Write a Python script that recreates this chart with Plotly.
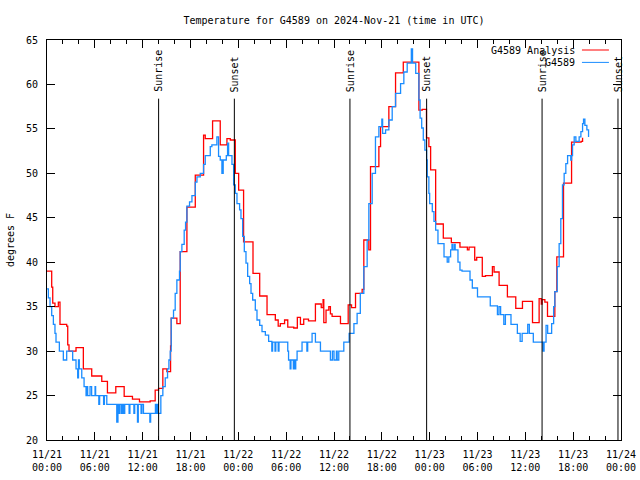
import pandas as pd
import plotly.graph_objects as go

# ---- data (hours after 2024-11-21 00:00 UTC, degrees F) ----
analysis_hours = [0.0, 0.59, 0.72, 1.0, 1.42, 1.63, 2.47, 2.6, 2.76, 3.64, 4.56, 5.61, 6.87, 7.58,
                  8.63, 9.68, 10.72, 11.6, 12.94, 13.57, 13.99, 14.53, 15.04, 15.5, 15.58, 16.29,
                  16.71, 17.55, 18.6, 19.64, 19.85, 20.77, 21.73, 22.57, 22.99, 23.62, 24.04, 24.66,
                  25.84, 26.68, 27.6, 28.64, 29.0, 29.27, 29.8, 30.2, 30.95, 31.4, 31.79, 32.2, 32.8,
                  33.67, 34.4, 34.63, 34.72, 35.0, 35.35, 35.55, 35.76, 36.81, 37.78, 38.2, 38.7,
                  39.53, 39.74, 40.37, 40.58, 41.63, 41.84, 42.88, 43.72, 44.69, 46.65, 47.07, 47.6,
                  47.9, 48.12, 48.75, 49.71, 50.72, 51.8, 52.73, 52.94, 53.65, 53.9, 54.6, 55.0,
                  55.87, 56.08, 56.71, 57.75, 58.8, 59.64, 60.9, 61.73, 62.0, 62.1, 62.45, 62.78,
                  63.7, 63.95, 64.79, 65.8, 67.0, 67.18]
analysis_temp = [39.0, 37.2, 35.4, 35.0, 35.5, 33.0, 32.8, 30.7, 30.0, 30.4, 28.0, 27.2, 26.6, 25.3,
                 26.0, 24.9, 24.6, 24.3, 24.4, 25.6, 25.8, 28.0, 27.7, 30.6, 33.7, 33.1,
                 41.2, 46.2, 49.8, 54.3, 53.9, 55.9, 53.2, 53.9, 53.75, 50.0, 48.1, 42.3,
                 38.75, 36.2, 34.1, 33.5, 32.8, 33.1, 33.5, 32.7, 32.6, 33.8, 33.0, 33.6, 33.4,
                 35.3, 34.9, 35.8, 33.2, 34.6, 35.0, 34.2, 33.9, 33.1, 35.2, 34.9, 36.5,
                 36.95, 42.5, 41.4, 50.75, 53.0, 55.25, 57.5, 61.3, 62.5, 57.1, 57.2, 54.0,
                 53.0, 50.4, 44.3, 42.7, 42.2, 41.7, 41.4, 41.7, 40.25, 40.55, 38.4, 38.5,
                 39.5, 38.9, 37.4, 36.1, 34.8, 35.6, 33.2, 35.9, 35.3, 35.8, 35.5, 33.9,
                 36.7, 40.6, 48.9, 53.5, 53.6, 54.0]

obs_hours = [0.0, 0.17, 0.38, 0.59, 0.8, 1.0, 1.13, 1.55, 2.05, 2.47, 3.22, 3.64, 3.85, 3.95, 4.05,
             4.36, 4.65, 4.9, 5.0, 5.1, 5.4, 5.6, 6.03, 6.1, 6.5, 6.6, 7.1, 7.2, 7.5, 8.75, 8.9,
             9.0, 9.1, 9.3, 9.45, 9.6, 9.75, 10.3, 10.4, 10.9, 11.0, 11.35, 11.45, 11.8, 11.9,
             12.1, 12.9, 13.0, 13.6, 13.7, 13.85, 13.95, 14.28, 14.53, 14.83, 15.12, 15.29,
             15.46, 15.58, 15.87, 16.08, 16.29, 16.62, 16.71, 16.92, 17.21, 17.38, 17.55,
             17.88, 18.18, 18.6, 18.81, 19.22, 19.64, 19.85, 20.48, 20.68, 21.31, 21.52, 21.73,
             21.94, 22.1, 22.49, 22.65, 22.78, 23.2, 23.41, 23.62, 23.83, 24.16, 24.33, 24.54,
             24.75, 24.96, 25.17, 25.42, 25.59, 25.8, 26.13, 26.34, 26.68, 26.97, 27.39, 27.8,
             28.2, 28.3, 28.6, 28.7, 29.0, 29.1, 30.2, 30.3, 30.5, 30.6, 30.9, 31.0, 31.1, 31.2,
             31.37, 31.99, 32.6, 32.7, 33.25, 33.67, 34.3, 35.55, 35.8, 36.0, 36.3, 36.4, 36.6,
             37.23, 37.9, 38.5, 38.9, 39.3, 39.74, 40.16, 40.37, 40.79, 41.2, 41.63, 42.0, 42.1,
             42.47, 42.88, 43.3, 43.72, 44.35, 44.76, 45.18, 45.7, 45.85, 46.25, 46.65, 46.8,
             47.0, 47.2, 47.4, 47.62, 47.7, 47.9, 48.0, 48.33, 48.54, 48.75, 49.04, 49.8, 50.2,
             50.4, 50.63, 50.8, 50.9, 51.1, 51.2, 51.55, 51.8, 52.06, 53.06, 53.35, 54.0, 55.6,
             56.5, 56.7, 56.9, 57.3, 57.5, 58.2, 59.0, 59.35, 59.6, 60.3, 60.5, 61.0, 62.2,
             62.35, 62.6, 62.8, 63.3, 63.55, 63.7, 64.0, 64.24, 64.45, 64.66, 64.87, 65.08,
             65.3, 65.7, 65.8, 65.92, 66.13, 66.34, 66.75, 66.97, 67.18, 67.3, 67.47, 67.72,
             67.93]
obs_temp = [37, 36, 35, 34, 33, 32, 31, 30, 29, 30, 29, 28, 27, 29, 28,
            27, 26, 25, 26, 25, 26, 25, 26, 25, 24, 25, 24, 25, 24, 22, 24,
            23, 24, 23, 24, 23, 24, 23, 24, 23, 24, 22, 24, 23, 24,
            23, 22, 23, 24, 23, 24, 23, 25, 26, 27, 28, 29,
            30, 33.7, 34.6, 36.5, 38, 39, 41.2, 42, 43.6, 44.5, 46.3,
            46.8, 47.5, 49, 49.6, 50, 51, 52, 53, 53.2, 54.1, 51.9, 51.5,
            50, 51.5, 52, 53.4, 52, 51, 48.7, 47.75, 46.6, 45.9, 44.9, 42.9,
            41.2, 39.9, 38.4, 37.6, 36.5, 35.75, 34.6, 33.5, 32.9, 32.2, 31.8, 31.1,
            30, 31, 30, 31, 30, 31, 30, 29, 28, 29, 28, 29, 28, 29,
            30, 31, 30, 31, 32, 31, 30, 29, 30, 29, 30, 29, 30,
            31, 32, 33.1, 34.25, 36.5, 39.5, 42.5, 46.6, 50, 54.1, 55.25, 56.1, 54.5,
            54.9, 56, 57.5, 59, 60.1, 61.4, 62.4, 64, 62.4, 61.25, 58.25, 56.2,
            55.1, 53.75, 52.6, 51.5, 49.6, 47.75, 46.6, 45.7, 44.6, 43.6, 42.1, 40.6, 40,
            40.6, 41.4, 42, 41.4, 42, 41.4, 40, 39.1, 39, 38, 37.1, 36.1, 35.1,
            34.1, 35, 34.1, 33, 34.1, 33, 32, 31.1, 32, 33, 32, 31, 30,
            31, 32.9, 32, 33.1, 35, 36.7, 39.5, 42.1, 44.9, 48.7, 50, 51.1,
            52, 51.5, 52, 53.2, 54.1, 53.6, 54.1, 54.7, 55.6, 56.1, 55.4, 54.9,
            54.1]

sun_hours = [14.0, 23.5, 38.0, 47.62, 62.1, 71.62]
sun_labels = ["Sunrise", "Sunset", "Sunrise", "Sunset", "Sunrise", "Sunset"]

y_ticks = [20, 25, 30, 35, 40, 45, 50, 55, 60, 65]
x_tick_hours = [0, 6, 12, 18, 24, 30, 36, 42, 48, 54, 60, 66, 72]

base = pd.Timestamp("2024-11-21 00:00")
def to_time(hours):
    return [base + pd.Timedelta(hours=h) for h in hours]

FONT = "DejaVu Sans Mono"
RED = "#ff0000"
BLUE = "#1a8cff"

fig = go.Figure()
fig.add_trace(go.Scatter(x=to_time(analysis_hours), y=analysis_temp, mode="lines",
                         line=dict(color=RED, width=1.3, shape="hv"),
                         name="G4589 Analysis", showlegend=False))
fig.add_trace(go.Scatter(x=to_time(obs_hours), y=obs_temp, mode="lines",
                         line=dict(color=BLUE, width=1.3, shape="hv"),
                         name="G4589", showlegend=False))

sun_times = to_time(sun_hours)
for t, lab in zip(sun_times, sun_labels):
    fig.add_shape(type="line", xref="x", yref="y", x0=t, x1=t, y0=20, y1=58.4,
                  line=dict(color="black", width=1))
    fig.add_annotation(x=t, y=58.9, xref="x", yref="y", text=lab, textangle=-90,
                       showarrow=False, xanchor="center", yanchor="bottom",
                       font=dict(family=FONT, size=10, color="black"))

# manual legend (text left of sample line, like the original)
legend_items = [("G4589 Analysis", RED, 0.975), ("G4589", BLUE, 0.944)]
for name, col, yy in legend_items:
    fig.add_annotation(x=0.918, y=yy, xref="paper", yref="paper", text=name,
                       showarrow=False, xanchor="right", yanchor="middle", xshift=3,
                       font=dict(family=FONT, size=10, color="black"))
    fig.add_shape(type="line", xref="paper", yref="paper", x0=0.932, x1=0.979,
                  y0=yy, y1=yy, line=dict(color=col, width=1))

fig.update_layout(
    width=640, height=480,
    margin=dict(l=47, r=19, t=40, b=40, autoexpand=False),
    paper_bgcolor="white", plot_bgcolor="white",
    font=dict(family=FONT, size=10, color="black"),
    title=dict(text="Temperature for G4589 on 2024-Nov-21 (time in UTC)",
               x=(47 + 621) / 2 / 640, xanchor="center", y=1 - 20 / 480, yanchor="middle",
               font=dict(family=FONT, size=10, color="black")),
    showlegend=False,
)
fig.update_xaxes(
    range=[base, base + pd.Timedelta(hours=72)],
    tickvals=to_time(x_tick_hours), tickformat="%m/%d<br>%H:%M",
    ticks="inside", ticklen=8, tickcolor="black", tickwidth=1,
    minor=dict(dtick=2 * 3600 * 1000, ticks="inside", ticklen=4, tickcolor="black"),
    showline=True, linecolor="black", linewidth=1, mirror="ticks",
    showgrid=False, zeroline=False, automargin=False, ticklabelstandoff=5,
    tickfont=dict(family=FONT, size=10, color="black"),
)
fig.update_yaxes(
    range=[20, 65], tickvals=y_ticks,
    ticks="inside", ticklen=8, tickcolor="black", tickwidth=1,
    showline=True, linecolor="black", linewidth=1, mirror="ticks",
    showgrid=False, zeroline=False, automargin=False, ticklabelstandoff=6,
    title=dict(text="degrees F", font=dict(family=FONT, size=10, color="black"), standoff=9),
    tickfont=dict(family=FONT, size=10, color="black"),
)

fig.write_html("out.html")
